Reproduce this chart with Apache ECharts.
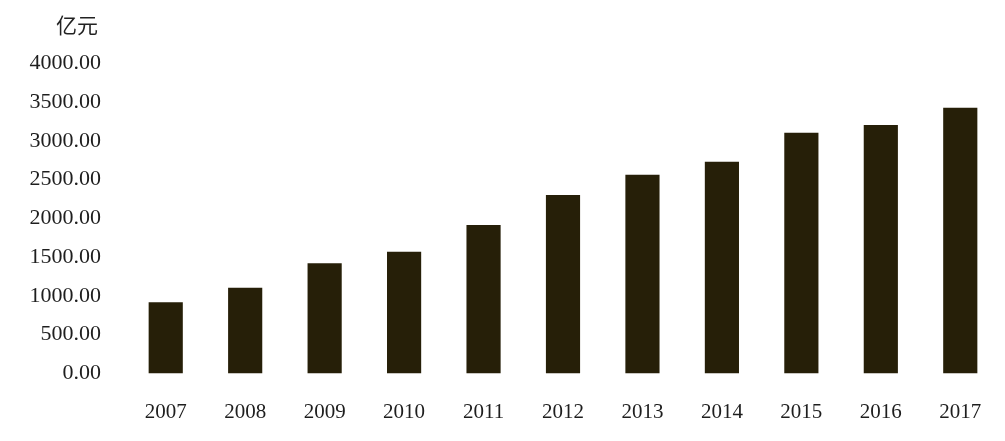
<!DOCTYPE html>
<html><head><meta charset="utf-8">
<script src="https://cdn.jsdelivr.net/npm/echarts@6/dist/echarts.min.js"></script>
<style>html,body{margin:0;padding:0;background:#fff}#c{width:1005px;height:441px}</style>
</head><body><div id="c"></div>
<script>
const categories = ['2007','2008','2009','2010','2011','2012','2013','2014','2015','2016','2017'];
const values = [917, 1105, 1420, 1570, 1915, 2302, 2564, 2732, 3107, 3206, 3429];
const unitLabel = '亿元';
const chart = echarts.init(document.getElementById('c'));
chart.setOption({
  animation: false,
  backgroundColor: '#ffffff',
  title: {
    text: unitLabel, left: 51, top: 10,
    textStyle: {fontFamily: 'Noto Sans CJK SC', fontSize: 21, fontWeight: 'normal', color: '#222'}
  },
  grid: {left: 126, right: 5, top: 63.5, bottom: 441 - 373.3},
  xAxis: {
    type: 'category', data: categories,
    axisLine: {show: false}, axisTick: {show: false},
    axisLabel: {fontFamily: 'Liberation Serif', fontSize: 21, color: '#1e1e1e', margin: 29}
  },
  yAxis: {
    type: 'value', min: 0, max: 4000, interval: 500,
    splitLine: {show: false}, axisLine: {show: false}, axisTick: {show: false},
    axisLabel: {fontFamily: 'Liberation Serif', fontSize: 22, color: '#1e1e1e', margin: 25,
      lineHeight: 22, padding: [3, 0, 0, 0],
      formatter: v => v.toFixed(2)}
  },
  series: [{
    type: 'bar', data: values, barWidth: '43%',
    itemStyle: {color: '#261f08'}
  }]
});
</script></body></html>
